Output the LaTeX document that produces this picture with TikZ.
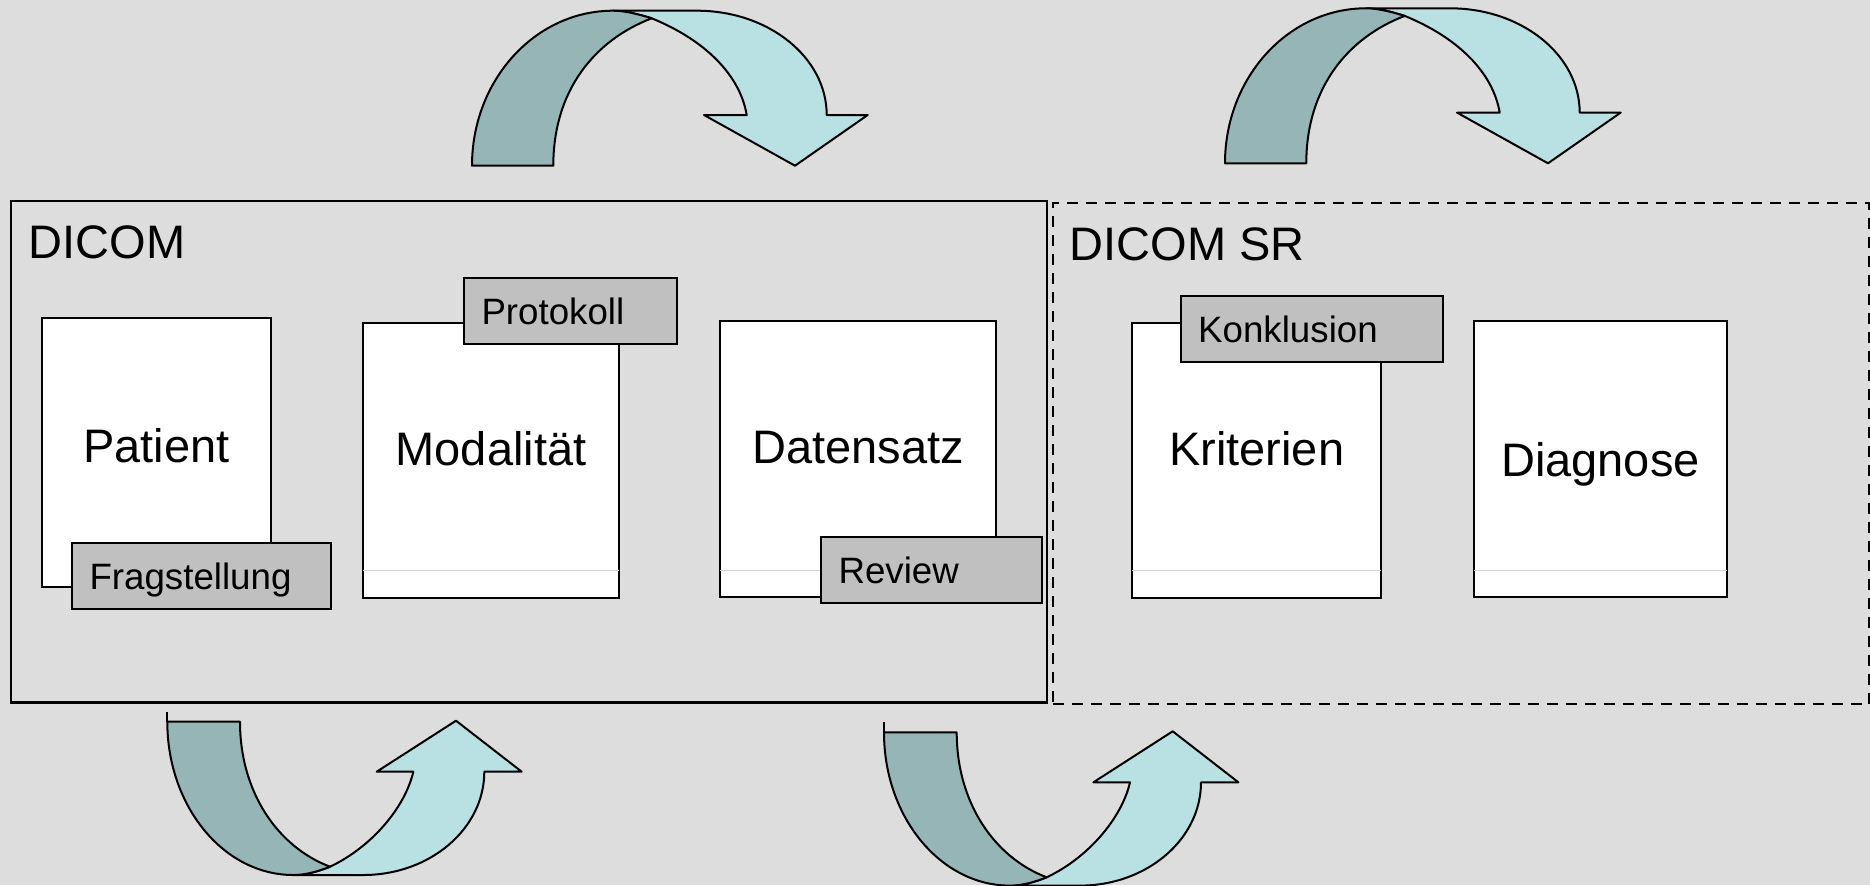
\documentclass[tikz,border=0pt]{standalone}
\usepackage{fontspec}
\setmainfont{Liberation Sans}
\usetikzlibrary{positioning}
\definecolor{canvas}{HTML}{DDDDDD}
\definecolor{tagfill}{HTML}{C0C0C0}
\definecolor{bandlightc}{HTML}{B9E0E3}
\definecolor{banddarkc}{HTML}{96B5B6}
\definecolor{sepgray}{HTML}{D6D6D6}

% bent arrow, going over (origin = lower left corner of its tail)
\newcommand{\swoopdown}[1]{%
  \begin{scope}[shift={#1}]
    \draw[bandlight] (141,-155) -- (225,-155)
      .. controls (296.6,-155) and (354.7,-108.3) .. (354.7,-50.7)
      -- (395.7,-50.7) -- (323,0) -- (232,-50.7) -- (274.7,-50.7)
      .. controls (268,-90.7) and (233,-125.7) .. (179.7,-147.4)
      .. controls (165,-152) and (152,-155) .. (141,-155) -- cycle;
    \draw[banddark] (0,0) -- (81.3,0)
      .. controls (81.3,-75.7) and (123,-125.7) .. (179.7,-147.4)
      .. controls (165,-152) and (152,-155) .. (141,-155)
      .. controls (63.1,-155) and (0,-85.6) .. (0,0) -- cycle;
  \end{scope}}

% bent arrow, going under (origin = upper left corner of its tail)
\newcommand{\swoopup}[1]{%
  \begin{scope}[shift={#1}]
    \draw[line width=1pt] (0,-10) -- (0,0);
    \draw[bandlight] (126,153.3) -- (196,153.3)
      .. controls (262.8,153.3) and (317,107) .. (317,50)
      -- (354.4,50) -- (288.7,-1) -- (209.4,50) -- (246,50)
      .. controls (238,85) and (205,125) .. (162.7,145)
      .. controls (150,150) and (138,153.3) .. (126,153.3) -- cycle;
    \draw[banddark] (0,0) -- (72.7,0)
      .. controls (72.7,70) and (110,125) .. (162.7,145)
      .. controls (150,150) and (138,153.3) .. (126,153.3)
      .. controls (56.4,153.3) and (0,84.7) .. (0,0) -- cycle;
  \end{scope}}

\begin{document}
\begin{tikzpicture}[x=0.5pt,y=-0.5pt,
    docbox/.style={rectangle,draw,line width=1pt,fill=white,outer sep=0pt,inner sep=0pt},
    tagbox/.style={rectangle,draw,line width=1pt,fill=tagfill,outer sep=0pt,
        inner xsep=8.75pt,inner ysep=0pt,minimum height=33pt,text depth=0pt,
        align=left,anchor=north west,font=\fontsize{18.35pt}{22pt}\selectfont},
    groupbox/.style={rectangle,draw,line width=1.1pt,outer sep=0pt,inner sep=0pt},
    lbl/.style={inner sep=0pt,anchor=base,font=\fontsize{23.5pt}{28pt}\selectfont},
    grouptitle/.style={inner sep=0pt,anchor=base west,font=\fontsize{23.5pt}{28pt}\selectfont},
    sepline/.style={draw=sepgray,line width=0.5pt},
    bandlight/.style={draw,line width=1pt,line join=round,fill=bandlightc},
    banddark/.style={draw,line width=1pt,line join=round,fill=banddarkc}]

    \fill[canvas] (0,0) rectangle (1870,885);
    \useasboundingbox (0,0) rectangle (1870,885);

    %--------------------------------------------
    % The two groups
    \node[groupbox,minimum width=518pt,minimum height=250.75pt] (dicom) at (529,451.75) {};
    \node[groupbox,line width=1pt,dash pattern=on 5.5pt off 4pt,minimum width=408.25pt,minimum height=250.5pt] (sr) at (1460.75,453.5) {};

    \node[grouptitle] (dicomT) at ([shift={(17.4,57)}]dicom.north west) {DICOM};
    \node[grouptitle] (srT) at ([shift={(16.7,57)}]sr.north west) {DICOM SR};

    %--------------------------------------------
    % Documents
    \node[docbox,minimum width=114.5pt,minimum height=134.5pt] (pat) at (156.5,452.5) {};
    \node[docbox,right=46pt of pat,yshift=-4pt,minimum width=128pt,minimum height=137.5pt] (mod) {};
    \node[docbox,right=50.5pt of mod,yshift=0.75pt,minimum width=138.2pt,minimum height=138pt] (dat) {};
    \node[docbox,right=67.95pt of dat,yshift=-0.75pt,minimum width=124.35pt,minimum height=137.8pt] (kri) {};
    \node[docbox,right=46.5pt of kri,yshift=0.8pt,minimum width=126.5pt,minimum height=137.85pt] (dia) {};

    \draw[sepline] ([yshift=14pt]mod.south west) -- ([yshift=14pt]mod.south east);
    \draw[sepline] ([yshift=13.5pt]dat.south west) -- ([yshift=13.5pt]dat.south east);
    \draw[sepline] ([yshift=14.15pt]kri.south west) -- ([yshift=14.15pt]kri.south east);
    \draw[sepline] ([yshift=13.35pt]dia.south west) -- ([yshift=13.35pt]dia.south east);

    \node[lbl] (patT) at ([shift={(0,9.5)}]pat.center) {Patient};
    \node[lbl] (modT) at ([shift={(0,4.5)}]mod.center) {Modalität};
    \node[lbl] (datT) at ([shift={(0,4)}]dat.center) {Datensatz};
    \node[lbl] (kriT) at ([shift={(0,5.2)}]kri.center) {Kriterien};
    \node[lbl] (diaT) at ([shift={(0,17.9)}]dia.center) {Diagnose};

    %--------------------------------------------
    % Tags on the documents
    \node[tagbox,text width=112pt] (frag) at ([shift={(30,-44)}]pat.south west) {Fragstellung};
    \node[tagbox,text width=88.75pt] (prot) at ([shift={(101,-45)}]mod.north west) {Protokoll};
    \node[tagbox,text width=92.75pt] (rev) at ([shift={(101,-60)}]dat.south west) {Review};
    \node[tagbox,text width=113.8pt] (konk) at ([shift={(48.4,-26.7)}]kri.north west) {Konklusion};

    %--------------------------------------------
    % Bent arrows
    \swoopdown{(472,165.7)}
    \swoopdown{(1225,163.3)}
    \swoopup{(167.3,721.7)}
    \swoopup{(884,732.3)}
\end{tikzpicture}
\end{document}
